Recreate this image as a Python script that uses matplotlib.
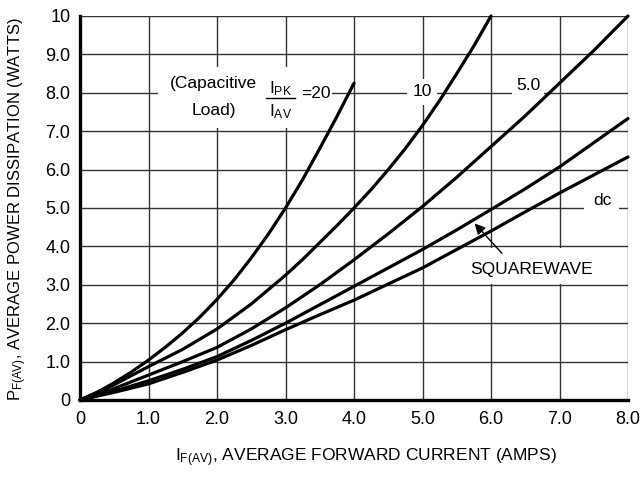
import matplotlib
matplotlib.use('Agg')
import matplotlib.pyplot as plt
from matplotlib.patches import Rectangle

# curves, x = IF(AV) amps, y = PF(AV) watts
x_20 = [0, 0.25, 0.5, 0.75, 1.0, 1.25, 1.5, 1.75, 2.0, 2.25, 2.5, 2.75, 3.0, 3.25, 3.5, 3.75, 4.0]
p_20 = [0, 0.2, 0.45, 0.73, 1.04, 1.38, 1.75, 2.16, 2.62, 3.13, 3.7, 4.32, 5.0, 5.74, 6.55, 7.38, 8.25]

x_10 = [0, 0.5, 1.0, 1.5, 2.0, 2.5, 3.0, 3.25, 3.5, 3.75, 4.0, 4.25, 4.5, 4.75, 5.0, 5.25, 5.5, 5.75, 6.0]
p_10 = [0, 0.4, 0.87, 1.32, 1.85, 2.5, 3.25, 3.66, 4.1, 4.54, 5.0, 5.48, 6.0, 6.55, 7.15, 7.8, 8.5, 9.22, 10.0]

x_long = [0, 0.5, 1.0, 1.5, 2.0, 2.5, 3.0, 3.5, 4.0, 4.5, 5.0, 5.5, 6.0, 6.5, 7.0, 7.5, 8.0]
p_5 = [0, 0.3, 0.65, 1.0, 1.37, 1.85, 2.4, 3.0, 3.65, 4.33, 5.04, 5.8, 6.6, 7.4, 8.25, 9.1, 10.0]
p_sq = [0, 0.23, 0.5, 0.8, 1.13, 1.55, 2.0, 2.48, 2.96, 3.44, 3.92, 4.43, 4.96, 5.5, 6.07, 6.7, 7.33]
p_dc = [0, 0.2, 0.42, 0.72, 1.04, 1.42, 1.83, 2.22, 2.6, 3.02, 3.44, 3.92, 4.4, 4.9, 5.39, 5.86, 6.33]

xticks = [0, 1, 2, 3, 4, 5, 6, 7, 8]
xtick_labels = ['0', '1.0', '2.0', '3.0', '4.0', '5.0', '6.0', '7.0', '8.0']
yticks = [0, 1, 2, 3, 4, 5, 6, 7, 8, 9, 10]
ytick_labels = ['0', '1.0', '2.0', '3.0', '4.0', '5.0', '6.0', '7.0', '8.0', '9.0', '10']

fnt = ['Liberation Sans', 'DejaVu Sans']
plt.rcParams['font.family'] = fnt
plt.rcParams['mathtext.fontset'] = 'custom'
plt.rcParams['mathtext.rm'] = fnt[0]
plt.rcParams['mathtext.it'] = fnt[0]
fs = 12.5

fig = plt.figure(figsize=(6.44, 4.79), dpi=100)
ax = fig.add_axes([80/644, 1-400/479, 548/644, 384/479])
ax.set_xlim(0, 8)
ax.set_ylim(0, 10)
ax.set_xticks(xticks)
ax.set_xticklabels(xtick_labels, fontsize=13)
ax.set_yticks(yticks)
ax.set_yticklabels(ytick_labels, fontsize=13)
ax.tick_params(length=0)
ax.tick_params(axis='x', pad=8)
ax.tick_params(axis='y', pad=7)
ax.grid(True, color='#333333', lw=1.0, zorder=1)
ax.set_axisbelow(True)
for s in ['top', 'right']:
    ax.spines[s].set_visible(False)
for s in ['left', 'bottom']:
    ax.spines[s].set_linewidth(2.4)
    ax.spines[s].set_zorder(5)

for xs, ps in [(x_20, p_20), (x_10, p_10), (x_long, p_5), (x_long, p_sq), (x_long, p_dc)]:
    ax.plot(xs, ps, color='black', lw=2.3, zorder=4, solid_capstyle='round', clip_on=False)

# white patches behind the labels
ax.add_patch(Rectangle((1.14, 7.08), 2.54, 1.59, facecolor='white', edgecolor='none', zorder=2))
ax.add_patch(Rectangle((5.59, 3.03), 1.93, 0.93, facecolor='white', edgecolor='none', zorder=2))

ax.text(1.95, 8.25, '(Capacitive', fontsize=fs, ha='center', va='center', zorder=3)
ax.text(1.95, 7.55, 'Load)', fontsize=fs, ha='center', va='center', zorder=3)
ax.text(2.93, 8.12, r'I$_{\mathrm{PK}}$', fontsize=fs, ha='center', va='center', zorder=3)
ax.text(2.93, 7.5, r'I$_{\mathrm{AV}}$', fontsize=fs, ha='center', va='center', zorder=3)
ax.plot([2.72, 3.14], [7.86, 7.86], color='black', lw=1.0, zorder=3)
ax.text(3.45, 7.99, '=20', fontsize=fs, ha='center', va='center', zorder=3)

bb = dict(facecolor='white', edgecolor='none', pad=4)
ax.text(4.99, 8.03, '10', fontsize=fs, ha='center', va='center', zorder=3, bbox=bb)
ax.text(6.54, 8.2, '5.0', fontsize=fs, ha='center', va='center', zorder=3,
        bbox=dict(facecolor='white', edgecolor='none', pad=3))
ax.text(7.62, 5.2, 'dc', fontsize=fs, ha='center', va='center', zorder=3,
        bbox=dict(facecolor='white', edgecolor='none', pad=6))
ax.text(6.59, 3.4, 'SQUAREWAVE', fontsize=fs, ha='center', va='center', zorder=3)
ax.annotate('', xy=(5.76, 4.6), xytext=(6.16, 3.82), zorder=4,
            arrowprops=dict(arrowstyle='-|>', color='black', lw=1.0,
                            mutation_scale=16, shrinkA=0, shrinkB=0))

fig.text(366/644, 1-458/479, r'I$_{\mathrm{F(AV)}}$, AVERAGE FORWARD CURRENT (AMPS)',
         fontsize=fs, ha='center', va='center')
fig.text(18/644, 1-209/479, r'P$_{\mathrm{F(AV)}}$, AVERAGE POWER DISSIPATION (WATTS)',
         fontsize=12, ha='center', va='center', rotation=90)

fig.savefig('out.png', dpi=100)
